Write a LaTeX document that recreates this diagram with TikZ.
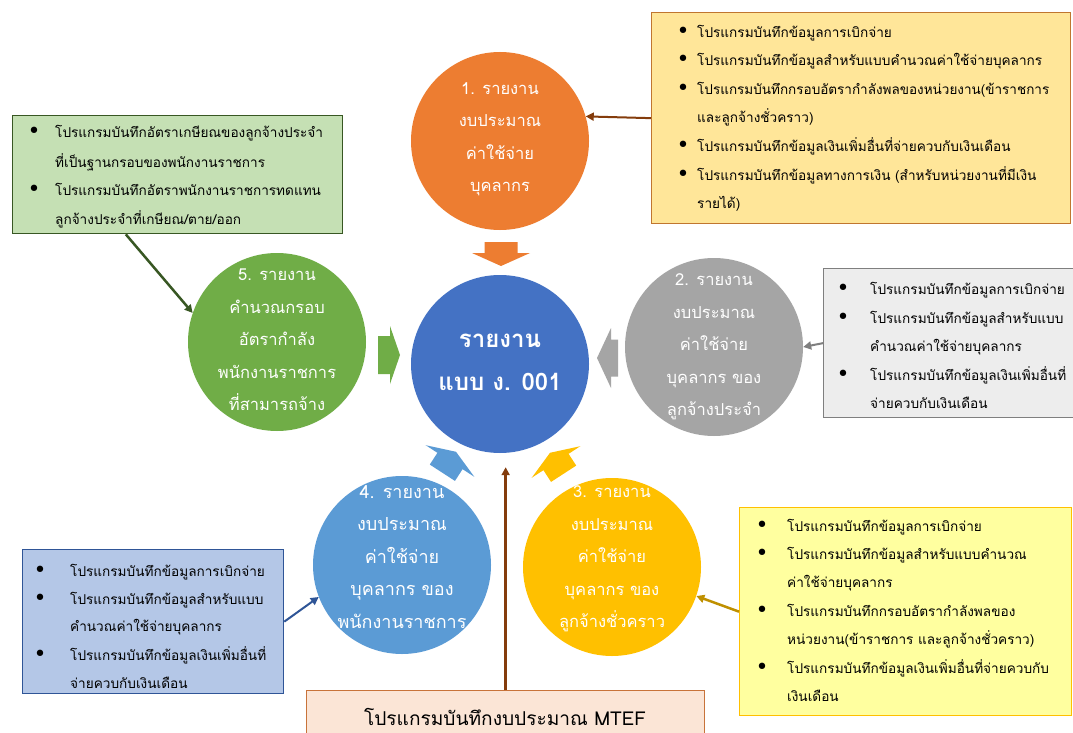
\documentclass[tikz,border=0pt]{standalone}
\usepackage{fontspec}
\usepackage{graphicx}
\setmainfont[Script=Thai]{Loma}
\newfontfamily\bulletfont{DejaVu Sans}
\usetikzlibrary{arrows.meta}
\definecolor{corange}{HTML}{ED7D31}
\definecolor{cgray}{HTML}{A5A5A5}
\definecolor{cyellow}{HTML}{FFC000}
\definecolor{clblue}{HTML}{5B9BD5}
\definecolor{cgreen}{HTML}{70AD47}
\definecolor{cblue}{HTML}{4472C4}
\definecolor{fgold}{HTML}{FFE699}
\definecolor{bgold}{HTML}{C0762F}
\definecolor{fgreen}{HTML}{C5E0B4}
\definecolor{bgreen}{HTML}{385723}
\definecolor{fgray}{HTML}{EDEDED}
\definecolor{bgray}{HTML}{7F7F7F}
\definecolor{fblue}{HTML}{B4C7E7}
\definecolor{bblue}{HTML}{2F5597}
\definecolor{fyellow}{HTML}{FFFF9F}
\definecolor{byellow}{HTML}{FFC000}
\definecolor{fpeach}{HTML}{FBE5D6}
\definecolor{bpeach}{HTML}{C8733A}
\definecolor{abrown}{HTML}{843C0C}
\definecolor{agold}{HTML}{BF9000}
\newcommand\barrow[8]{\fill[#4,shift={(#1,#2)},rotate=#3] (-#5,-#7) -- (0,-#7) -- (0,-#8) -- (#6,0) -- (0,#8) -- (0,#7) -- (-#5,#7) -- cycle;}
\tikzset{
  circ/.style={circle, minimum size=178pt, inner sep=0pt},
  ctext/.style={text=white, align=center, inner sep=0pt, font=\fontsize{16.5}{32.5}\selectfont},
  infobox/.style={rectangle, anchor=north west, inner sep=0pt, line width=1.3pt},
  btext/.style={anchor=base west, inner sep=0pt, font=\fontsize{13.6}{17}\selectfont},
  bul/.style={anchor=base, inner sep=0pt, font=\bulletfont\fontsize{22}{17}\selectfont},
  conn/.style={line width=2pt, -{Triangle[length=8pt,width=8pt]}}
}
\begin{document}
\begin{tikzpicture}[x=1pt,y=-1pt]
\useasboundingbox[fill=white] (0,0) rectangle (1073,733);

% boxes
\node[infobox, fill=fgold, draw=bgold, minimum width=419pt, minimum height=211pt] (b1) at (651,12) {};
\node[infobox, fill=fgreen, draw=bgreen, minimum width=330pt, minimum height=118pt] (b5) at (12,115) {};
\node[infobox, fill=fgray, draw=bgray, minimum width=252pt, minimum height=149pt] (b2) at (823,268) {};
\node[infobox, fill=fblue, draw=bblue, minimum width=261pt, minimum height=144pt] (b4) at (22,549) {};
\node[infobox, fill=fyellow, draw=byellow, minimum width=332pt, minimum height=208pt] (b3) at (739,507) {};
\node[infobox, fill=fpeach, draw=bpeach, minimum width=398pt, minimum height=60pt] (b6) at (306,690) {};

% box texts: top right
\node[bul] (b1u1) at (683,39) {•};
\node[btext] (b1l1) at (697,38) {โปรแกรมบันทึกข้อมูลการเบิกจ่าย};
\node[bul] (b1u2) at (683,67) {•};
\node[btext] (b1l2) at (697,66) {โปรแกรมบันทึกข้อมูลสำหรับแบบคำนวณค่าใช้จ่ายบุคลากร};
\node[bul] (b1u3) at (683,96) {•};
\node[btext] (b1l3) at (697,95) {\resizebox{352pt}{\height}{โปรแกรมบันทึกกรอบอัตรากำลังพลของหน่วยงาน(ข้าราชการ}};
\node[btext] (b1l4) at (697,123) {และลูกจ้างชั่วคราว)};
\node[bul] (b1u5) at (683,152) {•};
\node[btext] (b1l5) at (697,151) {โปรแกรมบันทึกข้อมูลเงินเพิ่มอื่นที่จ่ายควบกับเงินเดือน};
\node[bul] (b1u6) at (683,181) {•};
\node[btext] (b1l6) at (697,180) {โปรแกรมบันทึกข้อมูลทางการเงิน (สำหรับหน่วยงานที่มีเงิน};
\node[btext] (b1l7) at (697,208) {รายได้)};

% green box
\node[bul] (b5u1) at (34,139) {•};
\node[btext] (b5l1) at (55,138) {โปรแกรมบันทึกอัตราเกษียณของลูกจ้างประจำ};
\node[btext] (b5l2) at (55,167) {ที่เป็นฐานกรอบของพนักงานราชการ};
\node[bul] (b5u3) at (34,196) {•};
\node[btext] (b5l3) at (55,195) {โปรแกรมบันทึกอัตราพนักงานราชการทดแทน};
\node[btext] (b5l4) at (55,224) {ลูกจ้างประจำที่เกษียณ/ตาย/ออก};

% gray box
\node[bul] (b2u1) at (843,295) {•};
\node[btext] (b2l1) at (870,294) {โปรแกรมบันทึกข้อมูลการเบิกจ่าย};
\node[bul] (b2u2) at (843,324) {•};
\node[btext] (b2l2) at (870,323) {โปรแกรมบันทึกข้อมูลสำหรับแบบ};
\node[btext] (b2l3) at (870,351) {คำนวณค่าใช้จ่ายบุคลากร};
\node[bul] (b2u4) at (843,381) {•};
\node[btext] (b2l4) at (870,380) {โปรแกรมบันทึกข้อมูลเงินเพิ่มอื่นที่};
\node[btext] (b2l5) at (870,408) {จ่ายควบกับเงินเดือน};

% blue box
\node[bul] (b4u1) at (40,577) {•};
\node[btext] (b4l1) at (70,576) {โปรแกรมบันทึกข้อมูลการเบิกจ่าย};
\node[bul] (b4u2) at (40,605) {•};
\node[btext] (b4l2) at (70,604) {โปรแกรมบันทึกข้อมูลสำหรับแบบ};
\node[btext] (b4l3) at (70,631) {คำนวณค่าใช้จ่ายบุคลากร};
\node[bul] (b4u4) at (40,661) {•};
\node[btext] (b4l4) at (70,660) {โปรแกรมบันทึกข้อมูลเงินเพิ่มอื่นที่};
\node[btext] (b4l5) at (70,688) {จ่ายควบกับเงินเดือน};

% yellow box
\node[bul] (b3u1) at (762,532) {•};
\node[btext] (b3l1) at (787,531) {โปรแกรมบันทึกข้อมูลการเบิกจ่าย};
\node[bul] (b3u2) at (762,560) {•};
\node[btext] (b3l2) at (787,559) {โปรแกรมบันทึกข้อมูลสำหรับแบบคำนวณ};
\node[btext] (b3l3) at (787,587) {ค่าใช้จ่ายบุคลากร};
\node[bul] (b3u4) at (762,617) {•};
\node[btext] (b3l4) at (787,616) {โปรแกรมบันทึกกรอบอัตรากำลังพลของ};
\node[btext] (b3l5) at (787,644) {หน่วยงาน(ข้าราชการ และลูกจ้างชั่วคราว)};
\node[bul] (b3u6) at (762,674) {•};
\node[btext] (b3l6) at (787,673) {โปรแกรมบันทึกข้อมูลเงินเพิ่มอื่นที่จ่ายควบกับ};
\node[btext] (b3l7) at (787,701) {เงินเดือน};

% MTEF text
\node[inner sep=0pt, font=\fontsize{19.1}{24}\selectfont] (b6t) at (505,717) {โปรแกรมบันทึกงบประมาณ MTEF};

% block arrows
\barrow{501}{253}{-90}{corange}{11}{13}{16.5}{29}
\barrow{390}{355}{0}{cgreen}{12}{10}{19}{29}
\barrow{611}{358}{180}{cgray}{7}{14}{18.5}{30}
\barrow{450}{461}{57}{clblue}{14}{11}{15}{29}
\barrow{556}{462}{123}{cyellow}{14}{11}{15}{29}

% circles
\node[circ, fill=cblue] (c0) at (500,364) {};
\node[circ, fill=corange] (c1) at (500,141) {};
\node[circ, fill=cgray] (c2) at (714,347) {};
\node[circ, fill=cyellow] (c3) at (612,567) {};
\node[circ, fill=clblue] (c4) at (402,565) {};
\node[circ, fill=cgreen] (c5) at (277,342) {};

\node[ctext, font=\bfseries\fontsize{24}{43}\selectfont] (t0) at (500,362) {รายงาน\\แบบ ง. 001};
\node[ctext] (t1) at (500,139) {1. รายงาน\\งบประมาณ\\ค่าใช้จ่าย\\บุคลากร};
\node[ctext] (t2) at (714,347) {2. รายงาน\\งบประมาณ\\ค่าใช้จ่าย\\บุคลากร ของ\\ลูกจ้างประจำ};
\node[ctext] (t3) at (612,559) {3. รายงาน\\งบประมาณ\\ค่าใช้จ่าย\\บุคลากร ของ\\ลูกจ้างชั่วคราว};
\node[ctext, font=\fontsize{18}{32.5}\selectfont] (t4) at (402,557) {4. รายงาน\\งบประมาณ\\ค่าใช้จ่าย\\บุคลากร ของ\\พนักงานราชการ};
\node[ctext] (t5) at (277,340) {5. รายงาน\\คำนวณกรอบ\\อัตรากำลัง\\พนักงานราชการ\\ที่สามารถจ้าง};

% connectors
\draw[conn, draw=abrown] (b1.west) -- (c1.16);
\draw[conn, draw=bgreen, line width=2.5pt] (b5.229) -- (c5.161);
\draw[conn, draw=bgray] (b2.west) -- (c2.east);
\draw[conn, draw=bblue] (b4.east) -- (c4.201);
\draw[conn, draw=agold, line width=2.5pt] (b3.west) -- (c3.-19);
\draw[conn, draw=abrown, line width=2.5pt, shorten >=14pt] (b6.north) -- (b6.north |- c0.south);
\end{tikzpicture}
\end{document}
